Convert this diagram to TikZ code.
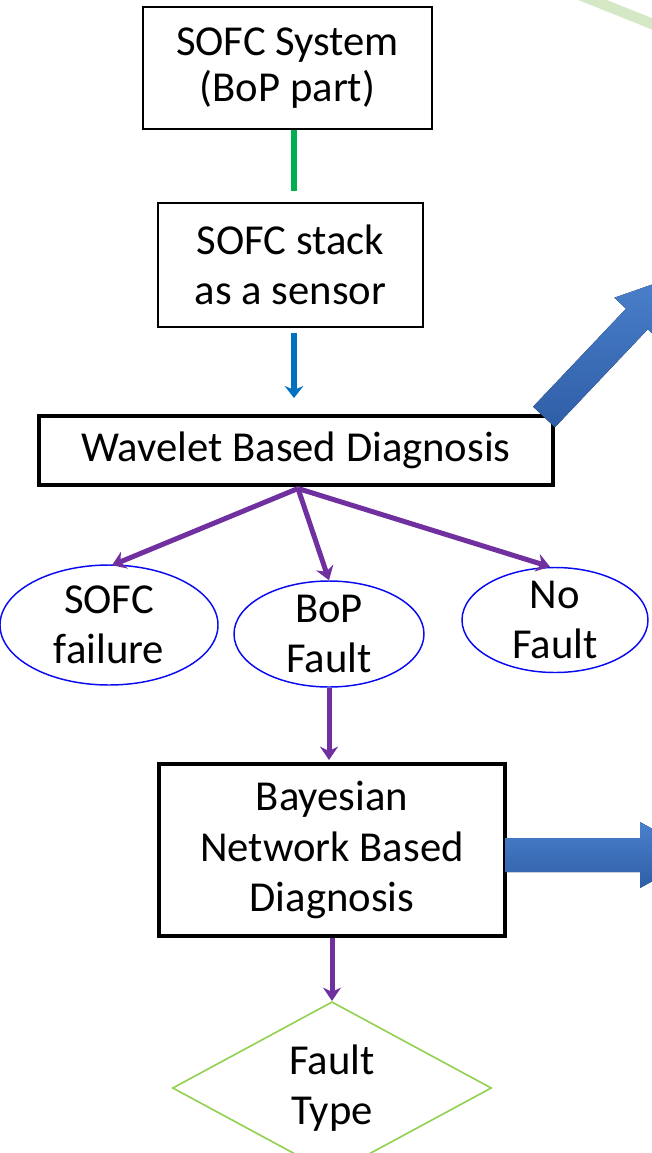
\documentclass[tikz,border=0pt]{standalone}
\usepackage{fontspec}
\setmainfont{Carlito}
\usetikzlibrary{shapes.geometric,arrows.meta,calc}
\definecolor{sgreen}{HTML}{00B050}
\definecolor{sblue}{HTML}{0070C0}
\definecolor{spurple}{HTML}{7030A0}
\definecolor{eblue}{HTML}{0A0AF0}
\definecolor{dgreen}{HTML}{92D050}
\definecolor{bandgreen}{HTML}{D4E8C6}
\definecolor{atop}{HTML}{4A80CC}
\definecolor{abot}{HTML}{2F5EA6}
\begin{document}
\begin{tikzpicture}[x=0.75pt,y=-0.75pt,
  thinbox/.style={draw=black, line width=1.5pt, fill=white, align=center, inner sep=0pt, rectangle},
  thickbox/.style={draw=black, line width=3pt, fill=white, align=center, inner sep=0pt, rectangle},
  oval/.style={ellipse, draw=eblue, line width=1.1pt, fill=white, align=center, inner sep=-4pt, font=\fontsize{32}{37.5}\selectfont},
  decision/.style={diamond, draw=dgreen, line width=1.2pt, fill=white, align=center, inner sep=0pt, font=\fontsize{32}{38}\selectfont},
  greenlink/.style={draw=sgreen, line width=4.9pt},
  bluelink/.style={draw=sblue, line width=4.9pt, -{Stealth[length=9pt,width=14pt]}},
  purplelink/.style={draw=spurple, line width=3.75pt, -{Stealth[length=10pt,width=13.5pt]}},
  bigarrow/.style={top color=atop, bottom color=abot, draw=none}
]
\useasboundingbox (0,0) rectangle (652,1153);

% faint decorative band
\draw[bandgreen, line width=8pt] (560,-13) -- (680,35);

\node[thinbox, minimum width=216.75pt, minimum height=91.5pt, font=\fontsize{32}{34.5}\selectfont] (b1) at (287.5,68) {SOFC System\\(BoP part)};
\node[thinbox, minimum width=198.75pt, minimum height=93pt, font=\fontsize{32}{37.5}\selectfont] (b2) at (290.5,265) {SOFC stack\\as a sensor};
\node[thickbox, minimum width=385.5pt, minimum height=51.75pt, font=\fontsize{32}{38}\selectfont] (b3) at (296,450.5) {Wavelet Based Diagnosis};
\node[oval, minimum width=163.5pt, minimum height=90pt] (e1) at (109,625) {SOFC\\failure};
\node[oval, minimum width=142.5pt, minimum height=79.5pt] (e2) at (329,634) {BoP\\Fault};
\node[oval, minimum width=139.5pt, minimum height=78.75pt] (e3) at (555,620) {No\\Fault};
\node[thickbox, minimum width=259.5pt, minimum height=129pt, font=\fontsize{32}{38}\selectfont] (b4) at (332,850) {Bayesian\\Network Based\\Diagnosis};
\node[decision, minimum width=239.25pt, minimum height=102pt] (d) at (332,1088) {Fault\\Type};

% connectors
\draw[greenlink] ($(b1.south)+(6.5,0)$) -- ($(b2.north)+(3.5,-11)$);
\draw[bluelink] ($(b2.south)+(3.5,5)$) -- ($(b3.north)+(-2,-16)$);
\coordinate (src) at ($(b3.south)+(2,1.5)$);
\draw[purplelink] (src) -- ($(e1.north)+(3,1)$);
\draw[purplelink] (src) -- (e2.north);
\draw[purplelink] (src) -- ($(e3.north)+(-5,0)$);
\draw[purplelink] (e2.south) -- ($(e2.south |- b4.north)+(0,-2)$);
\draw[purplelink] ($(b4.south -| d.north)$) -- (d.north);

% big blue arrows
\fill[bigarrow] (554.9,427.3) -- (533.1,406.7) -- (626.0,308.7) -- (614.4,297.7) -- (678.2,275.4) -- (659.4,340.3) -- (647.8,329.3) -- cycle;
\fill[bigarrow] (505,838) -- (640,838) -- (640,822) -- (700,855) -- (640,888) -- (640,872) -- (505,872) -- cycle;
\end{tikzpicture}
\end{document}
